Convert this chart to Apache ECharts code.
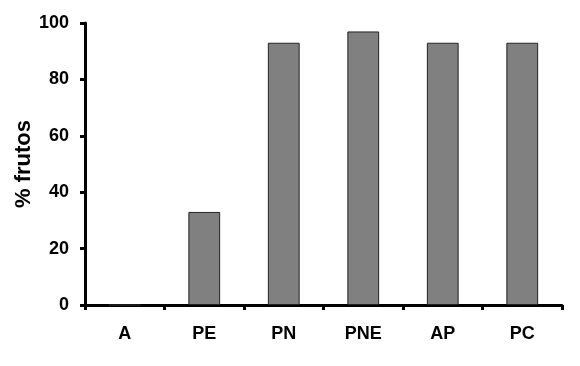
<!DOCTYPE html>
<html><head><meta charset="utf-8">
<script src="https://cdn.jsdelivr.net/npm/echarts@6/dist/echarts.min.js"></script>
<style>html,body{margin:0;padding:0;background:#fff}#c{width:580px;height:366px}</style>
</head><body><div id="c"></div>
<script>
var categories = ["A", "PE", "PN", "PNE", "AP", "PC"];
var values = [0, 33, 93, 97, 93, 93];
var yTicks = [0, 20, 40, 60, 80, 100];
var yTitle = "% frutos";

var chart = echarts.init(document.getElementById('c'));
var font = 'Liberation Sans, Arial, sans-serif';
chart.setOption({
  animation: false,
  grid: {left: 85, right: 18, top: 23, bottom: 61},
  xAxis: {
    type: 'category', data: categories, boundaryGap: true,
    axisLine: {lineStyle: {color: '#000', width: 3}},
    axisTick: {show: true, length: 5, lineStyle: {color: '#000', width: 3}},
    axisLabel: {color: '#000', fontFamily: font, fontWeight: 'bold', fontSize: 18, margin: 20}
  },
  yAxis: {
    type: 'value', min: yTicks[0], max: yTicks[yTicks.length-1], interval: 20,
    name: yTitle, nameLocation: 'middle', nameGap: 50, nameRotate: 90, nameMoveOverlap: false,
    nameTextStyle: {color: '#000', fontFamily: font, fontWeight: 'bold', fontSize: 22},
    axisLine: {show: true, lineStyle: {color: '#000', width: 3}},
    axisTick: {show: true, length: 5, lineStyle: {color: '#000', width: 3}},
    splitLine: {show: false},
    axisLabel: {color: '#000', fontFamily: font, fontWeight: 'bold', fontSize: 18, margin: 16}
  },
  series: [{
    type: 'bar', data: values, barWidth: '40%',
    itemStyle: {color: '#808080', borderColor: '#222', borderWidth: 1}
  }]
});
</script></body></html>
